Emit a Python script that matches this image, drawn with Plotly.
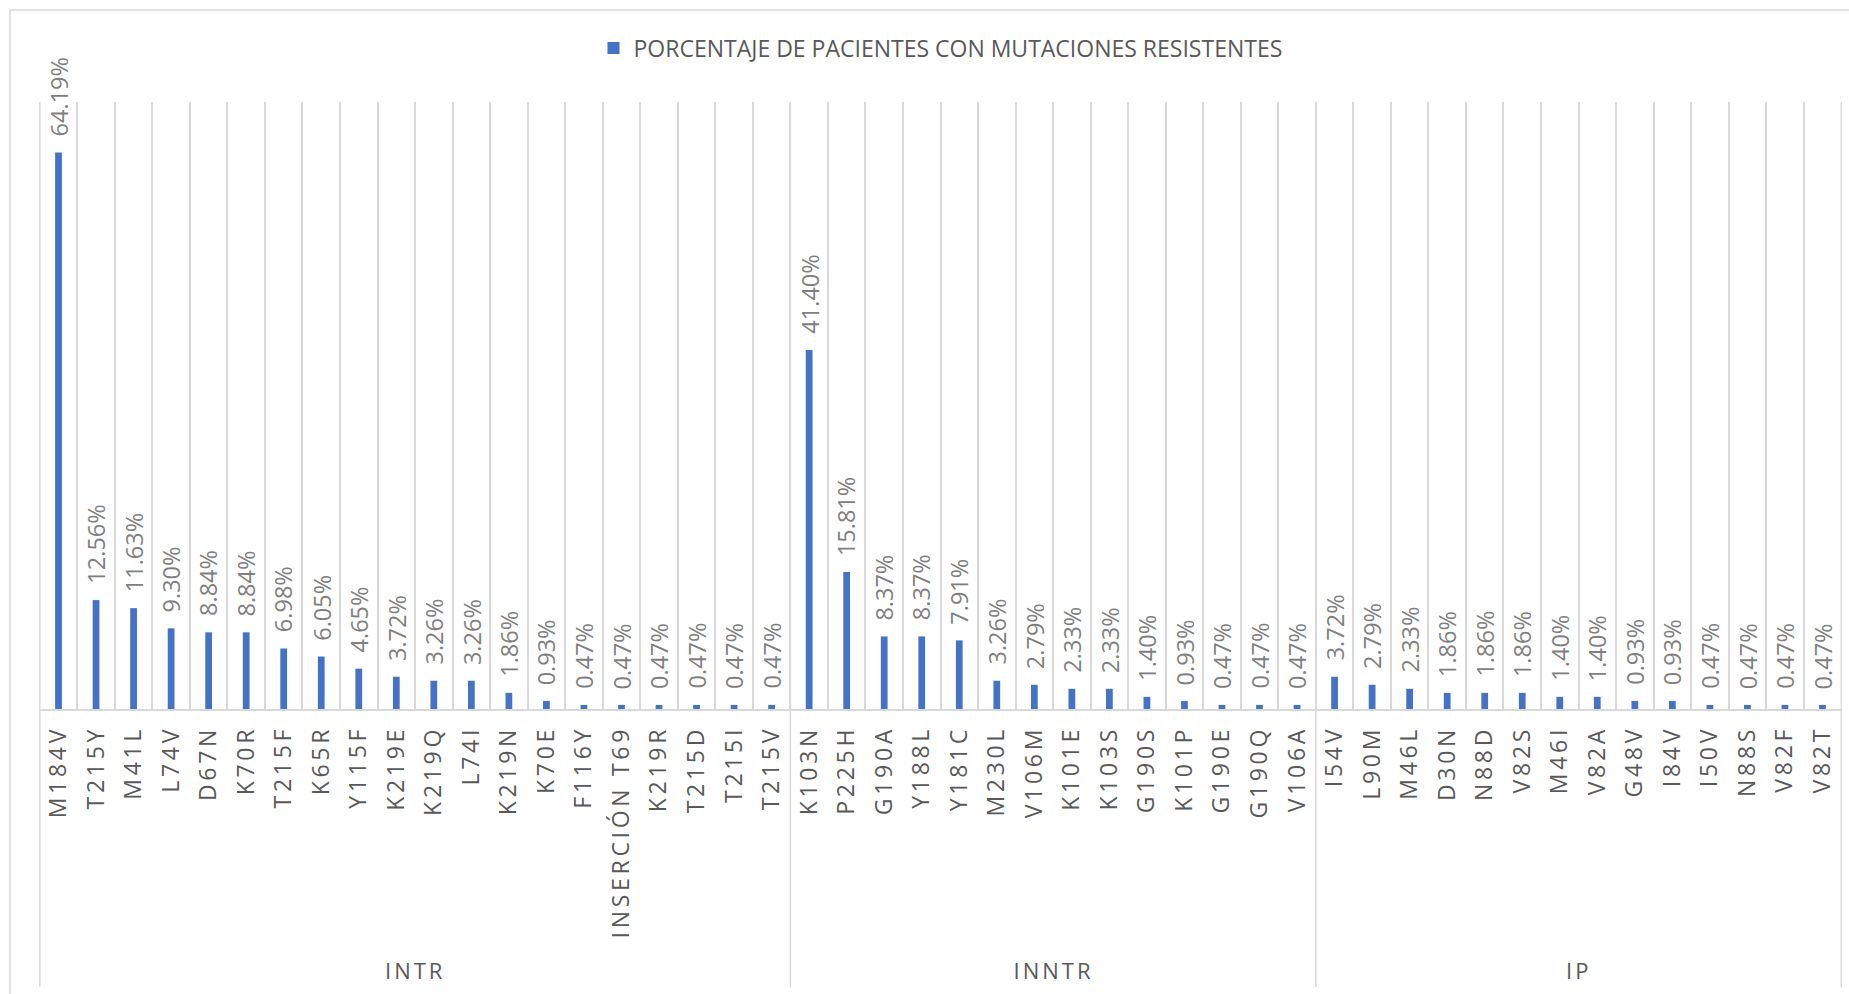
import plotly.graph_objects as go

# ---- data ----
group_names = ["INTR", "INNTR", "IP"]
intr_cats = ["M184V", "T215Y", "M41L", "L74V", "D67N", "K70R", "T215F", "K65R", "Y115F",
             "K219E", "K219Q", "L74I", "K219N", "K70E", "F116Y", "INSERCIÓN T69", "K219R",
             "T215D", "T215I", "T215V"]
intr_vals = [64.19, 12.56, 11.63, 9.30, 8.84, 8.84, 6.98, 6.05, 4.65, 3.72, 3.26, 3.26,
             1.86, 0.93, 0.47, 0.47, 0.47, 0.47, 0.47, 0.47]
inntr_cats = ["K103N", "P225H", "G190A", "Y188L", "Y181C", "M230L", "V106M", "K101E",
              "K103S", "G190S", "K101P", "G190E", "G190Q", "V106A"]
inntr_vals = [41.40, 15.81, 8.37, 8.37, 7.91, 3.26, 2.79, 2.33, 2.33, 1.40, 0.93, 0.47,
              0.47, 0.47]
ip_cats = ["I54V", "L90M", "M46L", "D30N", "N88D", "V82S", "M46I", "V82A", "G48V", "I84V",
           "I50V", "N88S", "V82F", "V82T"]
ip_vals = [3.72, 2.79, 2.33, 1.86, 1.86, 1.86, 1.40, 1.40, 0.93, 0.93, 0.47, 0.47, 0.47, 0.47]
series_name = "PORCENTAJE DE PACIENTES CON MUTACIONES RESISTENTES"

groups = [(group_names[0], intr_cats, intr_vals),
          (group_names[1], inntr_cats, inntr_vals),
          (group_names[2], ip_cats, ip_vals)]

cats = intr_cats + inntr_cats + ip_cats
vals = intr_vals + inntr_vals + ip_vals

BLUE = "#4472C4"
GRID = "#D9D9D9"
TXT = "#595959"
LBL = "#7F7F7F"
FONT = "Open Sans"

fig = go.Figure()
fig.add_trace(go.Bar(x=cats, y=vals, name=series_name, marker_color=BLUE,
                     marker_line_width=0, showlegend=True))

annotations = []
shapes = []

# group labels and separators
start = 0
bounds = [-0.5]
for gname, gcats, gvals in groups:
    n = len(gcats)
    center = start + (n - 1) / 2
    annotations.append(dict(x=center, y=-0.43, xref="x", yref="paper", text=gname,
                            showarrow=False, xanchor="center", yanchor="middle",
                            font=dict(family=FONT, size=22, color=TXT)))
    start += n
    bounds.append(start - 0.5)

for b in bounds:
    shapes.append(dict(type="line", xref="x", yref="paper", x0=b, x1=b, y0=-0.458, y1=1,
                       line=dict(color=GRID, width=1.5), layer="below"))

# data labels
for c, v in zip(cats, vals):
    annotations.append(dict(x=c, y=v, xref="x", yref="y", text=f"{v:.2f}%",
                            showarrow=False, textangle=-90, xanchor="center",
                            yanchor="bottom", yshift=14,
                            font=dict(family=FONT, size=23.5, color=LBL)))

# outer chart border
shapes.append(dict(type="rect", xref="paper", yref="paper", x0=-0.0161, x1=1.02,
                   y0=-0.48, y1=1.1516, line=dict(color=GRID, width=1.5), layer="below"))

fig.update_layout(
    width=1849, height=994,
    margin=dict(l=39, r=7, t=102, b=285),
    paper_bgcolor="white", plot_bgcolor="white",
    bargap=0.82,
    font=dict(family=FONT, color=TXT),
    showlegend=True,
    legend=dict(orientation="h", x=0.5, xanchor="center", y=1.089, yanchor="middle",
                font=dict(family=FONT, size=23, color=TXT), bgcolor="rgba(0,0,0,0)"),
    xaxis=dict(type="category", tickson="boundaries", showgrid=True, gridcolor=GRID,
               gridwidth=1.5, showline=True, linecolor=GRID, linewidth=1.5,
               ticks="", tickangle=-90, ticklabelstandoff=6,
               tickfont=dict(family=FONT, size=23, color=TXT), fixedrange=True),
    yaxis=dict(range=[0, 70], visible=False, showgrid=False, zeroline=False,
               fixedrange=True),
    annotations=annotations,
    shapes=shapes,
)

post = """
var gd = document.getElementById('{plot_id}');
var grp = %s;
function applyLS(){
  gd.querySelectorAll('.xtick text').forEach(function(t){ t.style.letterSpacing='3.7px'; });
  gd.querySelectorAll('.annotation-text').forEach(function(t){
    if (grp.indexOf(t.textContent) >= 0) { t.style.letterSpacing='3px'; }
  });
}
applyLS();
gd.on('plotly_afterplot', applyLS);
""" % (str(group_names).replace("'", '"'))

fig.write_html("out.html", post_script=post, config={"displayModeBar": False})
